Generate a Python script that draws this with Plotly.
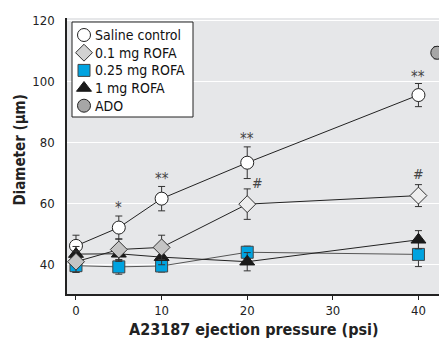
import plotly.graph_objects as go

x = [0, 5, 10, 20, 40]
saline = [46, 52, 61.5, 73.3, 95.5]
saline_err = [3.5, 3.8, 4, 5.2, 3.8]
rofa01 = [40.8, 44.8, 45.5, 59.7, 62.5]
rofa01_err = [3.5, 3.5, 4, 5, 3.6]
rofa025 = [39.5, 39.1, 39.4, 43.9, 43.2]
rofa025_err = [2.2, 2.4, 2.0, 2.0, 4.0]
rofa1 = [43.3, 43.4, 42.3, 40.8, 48.0]
rofa1_err = [2.5, 2.5, 2.5, 3.0, 3.0]
ado_x = [42.2]
ado_y = [109.4]
ado_err = [2.0]

ann_text = ["*", "**", "**", "**", "#", "#"]
ann_x = [5, 10, 20, 40, 21.2, 40]
ann_y = [58.5, 67.8, 81.0, 101.5, 66.7, 69.7]

legend_names = ["Saline control", "0.1 mg ROFA", "0.25 mg ROFA", "1 mg ROFA", "ADO"]

FONT = "DejaVu Sans Condensed, Liberation Sans Narrow, Arial Narrow, sans-serif"

# plot-area pixel size (used for the legend overlay axes)
PW, PH = 372, 276

fig = go.Figure()

def err(e):
    return dict(type="data", array=e, visible=True, color="#333333", thickness=1, width=3.5)

# connecting lines
for ys, col in [(saline, "#222222"), (rofa025, "#555555"), (rofa1, "#222222"), (rofa01, "#222222")]:
    fig.add_trace(go.Scatter(x=x, y=ys, mode="lines", line=dict(color=col, width=1),
                             showlegend=False, hoverinfo="skip"))

m_saline = dict(symbol="circle", size=13, color="white", line=dict(color="#222222", width=1))
m_025 = dict(symbol="square", size=12, color="#00a3e0", line=dict(color="#444444", width=1))
m_1 = dict(symbol="triangle-up", size=13, color="#1a1a1a", line=dict(color="#1a1a1a", width=1))
m_01_leg = dict(symbol="diamond", size=13, color="#d2d2d2", line=dict(color="#333333", width=1))
m_ado = dict(symbol="circle", size=13, color="#a6a6a6", line=dict(color="#222222", width=1))

fig.add_trace(go.Scatter(x=x, y=saline, mode="markers", name="Saline control", showlegend=False,
                         error_y=err(saline_err), marker=m_saline))
fig.add_trace(go.Scatter(x=x, y=rofa025, mode="markers", name="0.25 mg ROFA", showlegend=False,
                         error_y=err(rofa025_err), marker=m_025))
fig.add_trace(go.Scatter(x=x, y=rofa1, mode="markers", name="1 mg ROFA", showlegend=False,
                         error_y=err(rofa1_err), marker=m_1))
fig.add_trace(go.Scatter(x=x, y=rofa01, mode="markers", name="0.1 mg ROFA", showlegend=False,
                         error_y=err(rofa01_err),
                         marker=dict(symbol="diamond", size=13,
                                     color=["#c4c4c4", "#c4c4c4", "#c4c4c4", "#eeeeee", "#eeeeee"],
                                     line=dict(color="#333333", width=1))))
fig.add_trace(go.Scatter(x=ado_x, y=ado_y, mode="markers", name="ADO", showlegend=False,
                         error_y=err(ado_err), marker=m_ado))

# manual legend on a pixel-scaled overlay axis
leg_markers = [m_saline, m_01_leg, m_025, m_1, m_ado]
leg_y = [259, 241.3, 223.6, 206, 188.3]
box = dict(xref="x domain", yref="y domain", x0=5 / PW, x1=126 / PW, y0=177 / PH, y1=272 / PH)
fig.add_shape(type="rect", fillcolor="white", line=dict(width=0), layer="below", **box)
fig.add_shape(type="rect", fillcolor="rgba(0,0,0,0)", line=dict(color="#222222", width=1),
              layer="above", **box)
for name, mk, ly in zip(legend_names, leg_markers, leg_y):
    fig.add_trace(go.Scatter(x=[17], y=[ly], xaxis="x2", yaxis="y2", mode="markers",
                             marker=mk, showlegend=False, hoverinfo="skip"))
    fig.add_annotation(xref="x2", yref="y2", x=26, y=ly, text=name, showarrow=False,
                       xanchor="left", yanchor="middle",
                       font=dict(family=FONT, size=14, color="#111111"))

for t, ax_, ay_ in zip(ann_text, ann_x, ann_y):
    fig.add_annotation(x=ax_, y=ay_, text=t, showarrow=False,
                       font=dict(family=FONT, size=15 if t != "#" else 14, color="#444444"))

# axis titles
fig.add_annotation(xref="paper", yref="paper", x=0.503, y=-0.13, text="<b>A23187 ejection pressure (psi)</b>",
                   showarrow=False, xanchor="center", yanchor="middle",
                   font=dict(family=FONT, size=16, color="#222222"))
fig.add_annotation(xref="paper", yref="paper", x=-0.126, y=0.52, text="<b>Diameter (µm)</b>",
                   showarrow=False, xanchor="center", yanchor="middle", textangle=-90,
                   font=dict(family=FONT, size=15, color="#222222"))

fig.update_layout(
    width=439, height=344,
    margin=dict(l=67, r=0, t=18, b=50),
    paper_bgcolor="white", plot_bgcolor="#e6e7e9",
    font=dict(family=FONT, size=13, color="#222222"),
    showlegend=False,
    xaxis=dict(range=[-1.05, 42.4], tickvals=[0, 10, 20, 30, 40], showgrid=False,
               zeroline=False, showline=True, linecolor="#222222", linewidth=1.5,
               ticks="outside", ticklen=4, tickcolor="#222222", automargin=False,
               tickfont=dict(family=FONT, size=13, color="#222222")),
    yaxis=dict(range=[30.2, 120.8], tickvals=[40, 60, 80, 100, 120], showgrid=True,
               gridcolor="white", gridwidth=1.2, zeroline=False, showline=True,
               linecolor="#222222", linewidth=1.5, ticks="", ticklabelstandoff=8,
               automargin=False,
               tickfont=dict(family=FONT, size=13, color="#222222")),
    xaxis2=dict(overlaying="x", range=[0, PW], visible=False, fixedrange=True),
    yaxis2=dict(overlaying="y", range=[0, PH], visible=False, fixedrange=True),
)

fig.write_html("out.html", config={"displayModeBar": False},
               post_script="document.body.style.margin='0';")
